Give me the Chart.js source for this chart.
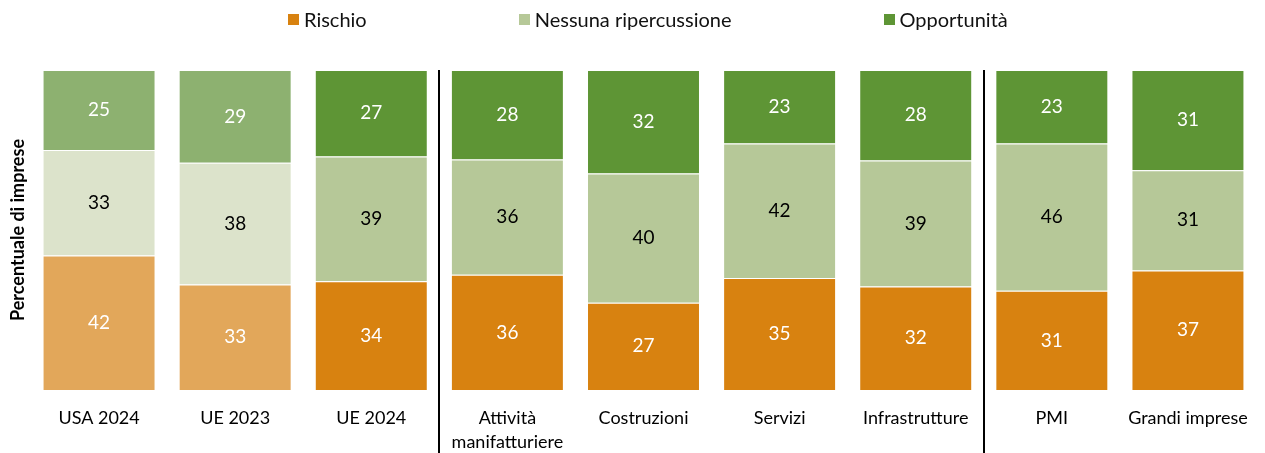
<!DOCTYPE html>
<html>
<head>
<meta charset="utf-8">
<script src="https://cdn.jsdelivr.net/npm/chart.js@4.4.1/dist/chart.umd.min.js"></script>
<style>
  html, body { margin: 0; padding: 0; background: #fff; }
  #wrap { position: relative; width: 1265px; height: 453px; }
  #legend { position: absolute; left: 288px; top: 7px; display: flex; gap: 152px; font-family: Lato, sans-serif; font-size: 20px; color: #111; }
  #legend .item { display: flex; align-items: center; }
  #legend .box { width: 11px; height: 11px; margin-right: 5px; }
</style>
</head>
<body>
<div id="wrap">
  <div id="legend"></div>
  <canvas id="chart" width="1265" height="453"></canvas>
</div>
<script>
const categories = [
    'USA 2024', 'UE 2023', 'UE 2024', ['Attività', 'manifatturiere'],
    'Costruzioni', 'Servizi', 'Infrastrutture', 'PMI', 'Grandi imprese'
];
const rischio = [42, 33, 34, 36, 27, 35, 32, 31, 37];
const nessuna = [33, 38, 39, 36, 40, 42, 39, 46, 31];
const opportunita = [25, 29, 27, 28, 32, 23, 28, 23, 31];
const separatorsAfter = [2, 6];

// colori: le prime due barre (USA 2024, UE 2023) in tinta chiara
const series = [
    { label: 'Rischio', data: rischio, color: '#D88210', light: '#E2A75A', text: '#ffffff' },
    { label: 'Nessuna ripercussione', data: nessuna, color: '#B6C898', light: '#DCE3CB', text: '#000000' },
    { label: 'Opportunità', data: opportunita, color: '#5E9535', light: '#8DB170', text: '#ffffff' }
];

// barre al 100%: ogni colonna viene normalizzata sul suo totale
const totals = categories.map((c, j) => series.reduce((sum, s) => sum + s.data[j], 0));

// legenda
const legendEl = document.getElementById('legend');
series.forEach(s => {
    const item = document.createElement('div');
    item.className = 'item';
    item.innerHTML = `<span class="box" style="background:${s.color}"></span><span>${s.label}</span>`;
    legendEl.appendChild(item);
});

const valueLabels = {
    id: 'valueLabels',
    afterDatasetsDraw(chart) {
        const ctx = chart.ctx;
        ctx.save();
        ctx.font = '19px Lato, sans-serif';
        ctx.textAlign = 'center';
        ctx.textBaseline = 'middle';
        chart.data.datasets.forEach((ds, i) => {
            const meta = chart.getDatasetMeta(i);
            meta.data.forEach((bar, j) => {
                ctx.fillStyle = series[i].text;
                ctx.fillText(series[i].data[j], bar.x, (bar.y + bar.base) / 2);
            });
        });
        ctx.restore();
    }
};

const separators = {
    id: 'separators',
    afterDraw(chart) {
        const ctx = chart.ctx;
        const x = chart.scales.x;
        ctx.save();
        ctx.strokeStyle = '#000';
        ctx.lineWidth = 2;
        separatorsAfter.forEach(i => {
            const px = Math.round((x.getPixelForValue(i) + x.getPixelForValue(i + 1)) / 2);
            ctx.beginPath();
            ctx.moveTo(px, chart.chartArea.top);
            ctx.lineTo(px, chart.height);
            ctx.stroke();
        });
        ctx.restore();
    }
};

new Chart(document.getElementById('chart'), {
    type: 'bar',
    data: {
        labels: categories,
        datasets: series.map(s => ({
            label: s.label,
            data: s.data.map((v, j) => v / totals[j] * 100),
            backgroundColor: s.data.map((v, j) => j < 2 ? s.light : s.color),
            borderColor: '#ffffff',
            borderWidth: 1,
            barPercentage: 0.83,
            categoryPercentage: 1
        }))
    },
    options: {
        responsive: false,
        animation: false,
        layout: { padding: { top: 70, right: 9, left: 0, bottom: 0 } },
        plugins: { legend: { display: false }, tooltip: { enabled: false } },
        scales: {
            x: {
                stacked: true,
                grid: { display: false, drawTicks: false },
                border: { display: false },
                ticks: { color: '#000', font: { family: 'Lato, sans-serif', size: 18, lineHeight: 1.35 }, padding: 16, maxRotation: 0 },
                afterFit(scale) { scale.height = 63; }
            },
            y: {
                stacked: true,
                min: 0,
                max: 100,
                grid: { display: false, drawTicks: false },
                border: { display: false },
                ticks: { display: false },
                title: { display: true, text: 'Percentuale di imprese', color: '#000', font: { family: 'Lato, sans-serif', size: 18, weight: 'bold' }, padding: 7 },
                afterFit(scale) { scale.width = 31; }
            }
        }
    },
    plugins: [valueLabels, separators]
});
</script>
</body>
</html>
